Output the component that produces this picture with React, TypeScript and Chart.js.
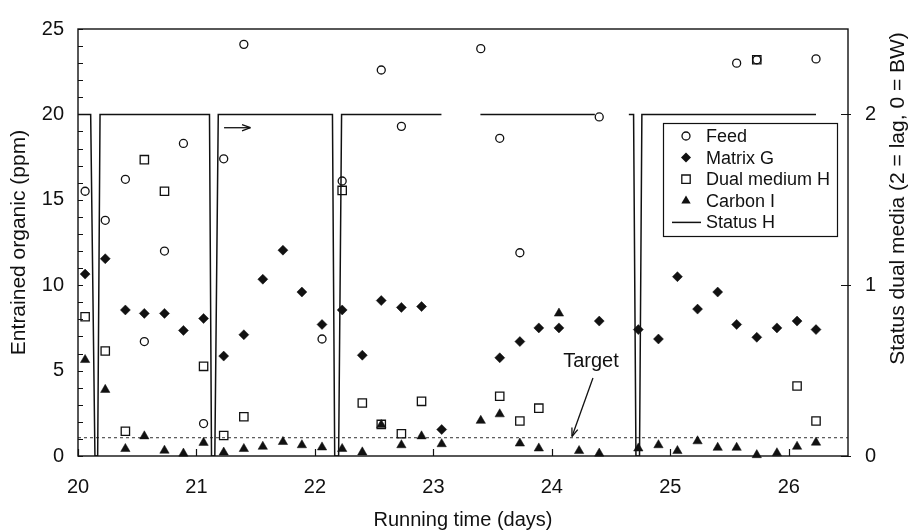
import React, { useEffect, useRef } from 'react';
import { Chart, registerables } from 'chart.js';

Chart.register(...registerables);

// ---------- data ----------
const feedDays = [20.06, 20.23, 20.40, 20.56, 20.73, 20.89, 21.06, 21.23, 21.40, 22.06, 22.23, 22.56, 22.73, 23.40, 23.56, 23.73, 24.40, 25.56, 25.73, 26.23];
const feedPpm = [15.5, 13.8, 16.2, 6.7, 12.0, 18.3, 1.9, 17.4, 24.1, 6.85, 16.1, 22.6, 19.3, 23.85, 18.6, 11.9, 19.85, 23.0, 23.2, 23.25];

const matrixDays = [20.06, 20.23, 20.40, 20.56, 20.73, 20.89, 21.06, 21.23, 21.40, 21.56, 21.73, 21.89, 22.06, 22.23, 22.40, 22.56, 22.73, 22.90, 23.07, 23.56, 23.73, 23.89, 24.06, 24.40, 24.73, 24.90, 25.06, 25.23, 25.40, 25.56, 25.73, 25.90, 26.07, 26.23];
const matrixPpm = [10.65, 11.55, 8.55, 8.35, 8.35, 7.35, 8.05, 5.85, 7.1, 10.35, 12.05, 9.6, 7.7, 8.55, 5.9, 9.1, 8.7, 8.75, 1.55, 5.75, 6.7, 7.5, 7.5, 7.9, 7.4, 6.85, 10.5, 8.6, 9.6, 7.7, 6.95, 7.5, 7.9, 7.4];

const dualDays = [20.06, 20.23, 20.40, 20.56, 20.73, 21.06, 21.23, 21.40, 22.23, 22.40, 22.56, 22.73, 22.90, 23.56, 23.73, 23.89, 25.73, 26.07, 26.23];
const dualPpm = [8.15, 6.15, 1.45, 17.35, 15.5, 5.25, 1.2, 2.3, 15.55, 3.1, 1.85, 1.3, 3.2, 3.5, 2.05, 2.8, 23.2, 4.1, 2.05];

const carbonDays = [20.06, 20.23, 20.40, 20.56, 20.73, 20.89, 21.06, 21.23, 21.40, 21.56, 21.73, 21.89, 22.06, 22.23, 22.40, 22.56, 22.73, 22.90, 23.07, 23.40, 23.56, 23.73, 23.89, 24.06, 24.23, 24.40, 24.73, 24.90, 25.06, 25.23, 25.40, 25.56, 25.73, 25.90, 26.07, 26.23];
const carbonPpm = [5.63, 3.88, 0.42, 1.16, 0.32, 0.15, 0.78, 0.21, 0.42, 0.55, 0.83, 0.64, 0.51, 0.42, 0.22, 1.82, 0.64, 1.16, 0.7, 2.07, 2.45, 0.74, 0.45, 8.35, 0.3, 0.15, 0.45, 0.64, 0.3, 0.87, 0.49, 0.49, 0.06, 0.17, 0.55, 0.79];

const statusDays = [20.0, 20.107, 20.143, 20.166, 20.186, 21.11, 21.127, 21.155, 21.184, 22.148, 22.167, 22.2, 22.225, 23.068, 23.2, 23.397, 24.363, 24.5, 24.65, 24.69, 24.71, 24.74, 24.76, 26.23];
const statusLevel: (number | null)[] = [2, 2, 0, 0, 2, 2, 0, 0, 2, 2, 0, 0, 2, 2, null, 2, 2, null, 2, 2, 0, 0, 2, 2];

const targetPpm = 1.07;
const targetSpan = [20, 26.5];

const dayTicks = [20, 21, 22, 23, 24, 25, 26];
const ppmTicks = Array.from({ length: 26 }, (_, i) => i);
const ppmLabels = [0, 5, 10, 15, 20, 25];
const statusTicks = [0, 1, 2];

const seriesNames = ['Feed', 'Matrix G', 'Dual medium H', 'Carbon I', 'Status H'];

const FONT = "'Liberation Sans', Arial, Helvetica, sans-serif";
const INK = '#111';

const pts = (xs: number[], ys: (number | null)[]) => xs.map((x, i) => ({ x, y: ys[i] }));

function drawMarker(ctx: CanvasRenderingContext2D, kind: string, x: number, y: number) {
  ctx.save();
  ctx.strokeStyle = INK;
  ctx.fillStyle = INK;
  ctx.lineWidth = 1.3;
  ctx.beginPath();
  if (kind === 'circle') {
    ctx.arc(x, y, 4, 0, Math.PI * 2);
    ctx.stroke();
  } else if (kind === 'rectRot') {
    const r = 5;
    ctx.moveTo(x - r, y); ctx.lineTo(x, y - r); ctx.lineTo(x + r, y); ctx.lineTo(x, y + r); ctx.closePath();
    ctx.fill();
  } else if (kind === 'rect') {
    const s = 4.2;
    ctx.rect(x - s, y - s, 2 * s, 2 * s);
    ctx.stroke();
  } else if (kind === 'triangle') {
    const r = 5.4;
    ctx.moveTo(x, y - r); ctx.lineTo(x + 0.866 * r, y + r / 2); ctx.lineTo(x - 0.866 * r, y + r / 2); ctx.closePath();
    ctx.fill();
  } else if (kind === 'line') {
    ctx.lineWidth = 1.5;
    ctx.moveTo(x - 14, y); ctx.lineTo(x + 15, y);
    ctx.stroke();
  }
  ctx.restore();
}

function arrow(ctx: CanvasRenderingContext2D, x1: number, y1: number, x2: number, y2: number, head: number) {
  const a = Math.atan2(y2 - y1, x2 - x1);
  ctx.beginPath();
  ctx.moveTo(x1, y1);
  ctx.lineTo(x2, y2);
  ctx.stroke();
  ctx.beginPath();
  ctx.moveTo(x2, y2);
  ctx.lineTo(x2 - head * Math.cos(a - 0.35), y2 - head * Math.sin(a - 0.35));
  ctx.moveTo(x2, y2);
  ctx.lineTo(x2 - head * Math.cos(a + 0.35), y2 - head * Math.sin(a + 0.35));
  ctx.stroke();
}

const decorPlugin = {
  id: 'decor',
  afterDraw(chart: any) {
    const { ctx, chartArea: ca, scales } = chart;
    const x = scales.x, y = scales.y, y1 = scales.y1;
    ctx.save();
    // frame
    ctx.strokeStyle = INK;
    ctx.lineWidth = 1.4;
    ctx.strokeRect(ca.left, ca.top, ca.right - ca.left, ca.bottom - ca.top);
    // inward ticks
    ctx.lineWidth = 1.2;
    ctx.beginPath();
    ppmTicks.forEach(v => {
      const py = Math.round(y.getPixelForValue(v)) + 0.5;
      ctx.moveTo(ca.left, py); ctx.lineTo(ca.left + 5, py);
    });
    dayTicks.forEach(v => {
      const px = Math.round(x.getPixelForValue(v)) + 0.5;
      ctx.moveTo(px, ca.bottom); ctx.lineTo(px, ca.bottom - 7);
    });
    statusTicks.forEach(v => {
      const py = Math.round(y1.getPixelForValue(v)) + 0.5;
      ctx.moveTo(ca.right - 7, py); ctx.lineTo(ca.right + 3, py);
    });
    ctx.stroke();

    // right axis title (reads bottom-to-top)
    ctx.fillStyle = INK;
    ctx.font = `21px ${FONT}`;
    ctx.textAlign = 'center';
    ctx.textBaseline = 'middle';
    ctx.save();
    ctx.translate(898, (ca.top + ca.bottom) / 2 - 44);
    ctx.rotate(-Math.PI / 2);
    ctx.fillText('Status dual media (2 = lag, 0 = BW)', 0, 0);
    ctx.restore();

    // "Target" annotation
    ctx.font = `20px ${FONT}`;
    ctx.fillText('Target', x.getPixelForValue(24.33), y.getPixelForValue(5.55));
    ctx.lineWidth = 1.3;
    arrow(ctx, x.getPixelForValue(24.347), y.getPixelForValue(4.57), x.getPixelForValue(24.17), y.getPixelForValue(1.14), 9);
    // direction arrow
    arrow(ctx, x.getPixelForValue(21.233), y.getPixelForValue(19.22), x.getPixelForValue(21.456), y.getPixelForValue(19.22), 9);

    // legend box
    const lx = 663, ly = 123, lw = 174, lh = 113;
    ctx.fillStyle = '#fff';
    ctx.fillRect(lx, ly, lw, lh);
    ctx.lineWidth = 1.2;
    ctx.strokeStyle = INK;
    ctx.strokeRect(lx + 0.5, ly + 0.5, lw, lh);
    const kinds = ['circle', 'rectRot', 'rect', 'triangle', 'line'];
    ctx.font = `18px ${FONT}`;
    ctx.textAlign = 'left';
    ctx.textBaseline = 'middle';
    seriesNames.forEach((name, i) => {
      const cy = ly + 13 + i * 21.6;
      drawMarker(ctx, kinds[i], 686, cy);
      ctx.fillStyle = INK;
      ctx.fillText(name, 706, cy + 1);
    });
    ctx.restore();
  },
};

export default function App() {
  const ref = useRef<HTMLCanvasElement | null>(null);
  useEffect(() => {
    if (!ref.current) return;
    Chart.defaults.font.family = FONT;
    Chart.defaults.color = INK;
    const chart = new Chart(ref.current, {
      type: 'scatter',
      data: {
        datasets: [
          {
            label: seriesNames[0], data: pts(feedDays, feedPpm), pointStyle: 'circle', pointRadius: 4,
            borderColor: INK, backgroundColor: 'rgba(0,0,0,0)', borderWidth: 1.3, yAxisID: 'y',
          },
          {
            label: seriesNames[1], data: pts(matrixDays, matrixPpm), pointStyle: 'rectRot', pointRadius: 5,
            borderColor: INK, backgroundColor: INK, borderWidth: 0.5, yAxisID: 'y',
          },
          {
            label: seriesNames[2], data: pts(dualDays, dualPpm), pointStyle: 'rect', pointRadius: 5.9,
            borderColor: INK, backgroundColor: 'rgba(0,0,0,0)', borderWidth: 1.3, yAxisID: 'y',
          },
          {
            label: seriesNames[3], data: pts(carbonDays, carbonPpm), pointStyle: 'triangle', pointRadius: 5.4,
            borderColor: INK, backgroundColor: INK, borderWidth: 0.5, yAxisID: 'y', clip: false,
          } as any,
          {
            label: seriesNames[4], data: pts(statusDays, statusLevel), showLine: true, pointRadius: 0,
            borderColor: INK, borderWidth: 1.5, yAxisID: 'y1', spanGaps: false, tension: 0,
          },
          {
            label: 'Target', data: pts(targetSpan, [targetPpm, targetPpm]), showLine: true, pointRadius: 0,
            borderColor: '#333', borderWidth: 1, borderDash: [3, 3], yAxisID: 'y',
          },
        ],
      },
      options: {
        responsive: false,
        animation: false,
        layout: { padding: { top: 18, left: 0, right: 0, bottom: 0 } },
        plugins: { legend: { display: false }, tooltip: { enabled: false } },
        scales: {
          x: {
            type: 'linear', min: 20, max: 26.5,
            afterBuildTicks: (s: any) => { s.ticks = dayTicks.map(v => ({ value: v })); },
            afterFit: (s: any) => { s.height = 76; },
            grid: { display: false, drawTicks: false },
            border: { display: false },
            ticks: { autoSkip: false, maxRotation: 0, padding: 19, font: { size: 20 }, color: INK },
            title: { display: true, text: 'Running time (days)', font: { size: 20 }, color: INK, padding: 0 },
          },
          y: {
            type: 'linear', position: 'left', min: 0, max: 25,
            afterBuildTicks: (s: any) => { s.ticks = ppmTicks.map(v => ({ value: v })); },
            afterFit: (s: any) => { s.width = 78; },
            grid: { display: false, drawTicks: false },
            border: { display: false },
            ticks: {
              autoSkip: false, padding: 14, font: { size: 20 }, color: INK,
              callback: (v: any) => (ppmLabels.includes(Number(v)) ? String(v) : ''),
            },
            title: { display: true, text: 'Entrained organic (ppm)', font: { size: 21 }, color: INK, padding: { top: 7, bottom: 0 } },
          },
          y1: {
            type: 'linear', position: 'right', min: 0, max: 2.5,
            afterBuildTicks: (s: any) => { s.ticks = statusTicks.map(v => ({ value: v })); },
            afterFit: (s: any) => { s.width = 61; },
            grid: { display: false, drawTicks: false },
            border: { display: false },
            ticks: { autoSkip: false, padding: 17, font: { size: 20 }, color: INK },
          },
        },
      },
      plugins: [decorPlugin],
    });
    return () => chart.destroy();
  }, []);
  return (
    <div style={{ position: 'fixed', left: 0, top: 0, width: 909, height: 532, background: '#fff' }}>
      <canvas ref={ref} width={909} height={532} style={{ display: 'block' }} />
    </div>
  );
}
